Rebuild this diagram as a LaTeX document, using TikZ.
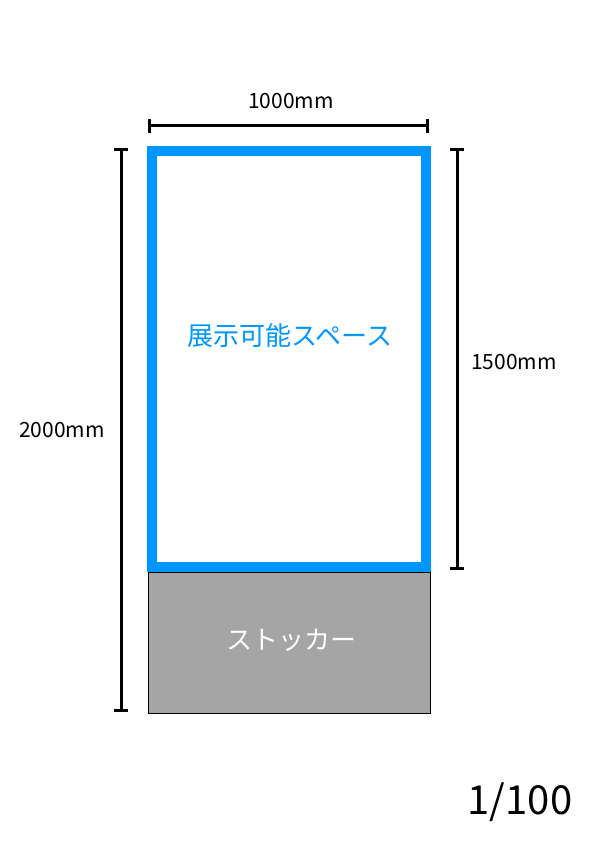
\documentclass[tikz,border=0pt]{standalone}
\usepackage{fontspec}
\setmainfont{Noto Sans CJK JP}
\usetikzlibrary{arrows.meta}
\definecolor{dispblue}{RGB}{0,150,255}
\definecolor{stockgray}{RGB}{165,165,165}
\tikzset{
  dimline/.style={line width=3pt,{Bar[width=14pt]}-{Bar[width=14pt]}},
  dimtext/.style={font=\fontsize{21}{21}\selectfont},
}

\begin{document}
\begin{tikzpicture}[x=1pt,y=-1pt]
\useasboundingbox (0,0) rectangle (595,842);
\node[draw,line width=0.8pt,fill=stockgray,minimum width=282pt,minimum height=141pt,inner sep=0pt] (stocker) at (289,642.5) {};
\node[draw=dispblue,line width=10pt,minimum width=274pt,minimum height=416pt,inner sep=0pt] (display) at (289,359) {};
\node[text=dispblue,font=\fontsize{26}{26}\selectfont] (dispname) at (290,336) {展示可能スペース};
\node[text=white,font=\fontsize{26}{26}\selectfont] (stockname) at (291,640) {ストッカー};
% dimension lines
\coordinate (wl) at (148,126);
\coordinate (wr) at (429,126);
\coordinate (ht) at (121,148);
\coordinate (hb) at (121,712);
\coordinate (dt) at (457,148);
\coordinate (db) at (457,570);
\draw[dimline] (wl) -- (wr);
\draw[dimline] (ht) -- (hb);
\draw[dimline] (dt) -- (db);
\node[dimtext] (wtext) at (291,101) {1000mm};
\node[dimtext] (htext) at (62,430) {2000mm};
\node[dimtext] (dtext) at (514,362) {1500mm};
\node[font=\fontsize{40}{40}\selectfont] (scale) at (520,802) {1/100};
\end{tikzpicture}
\end{document}
